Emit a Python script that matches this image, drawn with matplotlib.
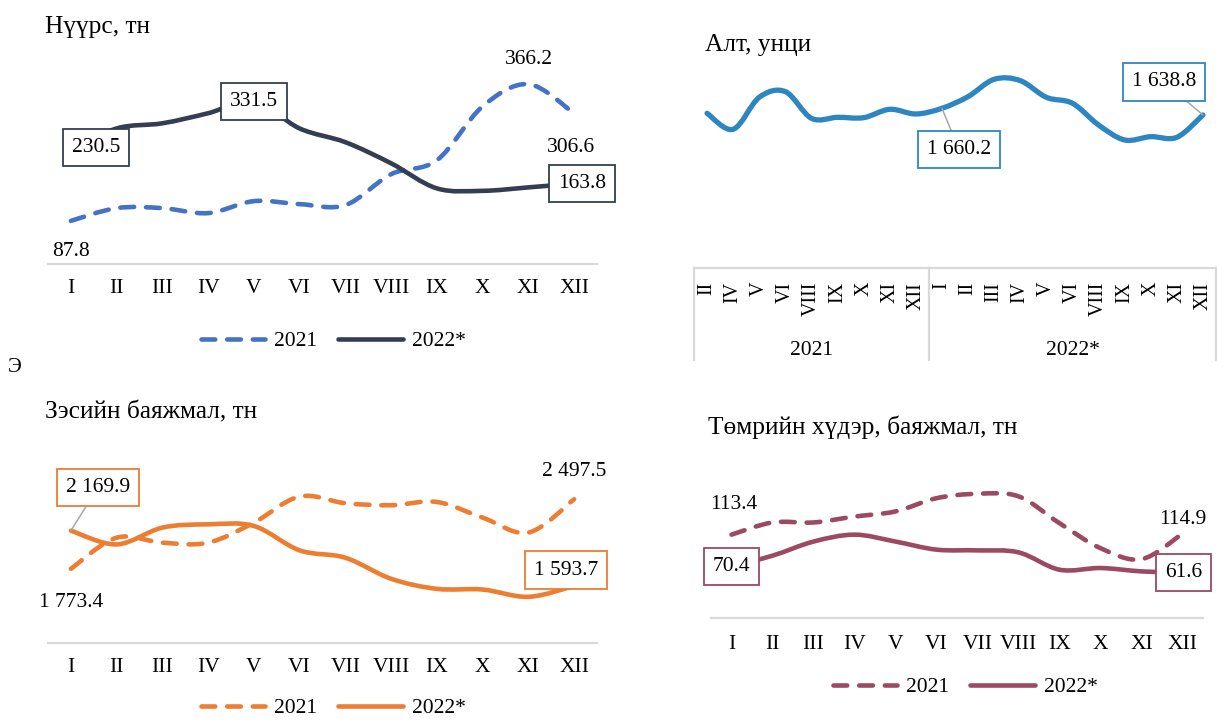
import matplotlib
matplotlib.use("Agg")
import matplotlib.pyplot as plt
from matplotlib.path import Path
from matplotlib.patches import PathPatch
from matplotlib.lines import Line2D

plt.rcParams["font.family"] = ["Liberation Serif", "DejaVu Serif"]

W, H = 1217, 720

months = ["I", "II", "III", "IV", "V", "VI", "VII", "VIII", "IX", "X", "XI", "XII"]

coal_2021 = [87.8, 113.8, 113.8, 103.6, 128.0, 121.9, 119.9, 182.9, 211.3, 321.0, 366.2, 306.6]
coal_2022 = [230.5, 276.0, 286.5, 307.0, 331.5, 276.0, 248.0, 205.0, 154.0, 149.0, 156.0, 163.8]

gold_ticks_2021 = ["II", "IV", "V", "VI", "VIII", "IX", "X", "XI", "XII"]
gold_ticks_2022 = ["I", "II", "III", "IV", "V", "VI", "VIII", "IX", "X", "XI", "XII"]
gold = [1644.2, 1592.8, 1695.5, 1713.7, 1628.1, 1631.3, 1630.2, 1657.0, 1642.0,
        1660.2, 1697.7, 1753.3, 1749.0, 1695.5, 1676.3, 1606.7, 1558.5, 1569.2, 1567.1, 1638.8]

copper_2021 = [1773.4, 2097, 2045, 2045, 2254, 2526, 2456, 2435, 2469, 2306, 2150, 2497.5]
copper_2022 = [2169.9, 2027, 2202, 2236, 2219, 1965, 1888, 1669, 1564, 1557, 1481, 1593.7]

iron_2021 = [113.4, 130.0, 130.0, 138.0, 145.0, 163.0, 169.0, 165.5, 129.0, 95.0, 80.0, 114.9]
iron_2022 = [70.4, 84.8, 104.0, 113.4, 104.0, 93.0, 92.0, 89.3, 65.7, 68.0, 63.4, 61.6]

C_COAL21, C_COAL22 = "#4472C4", "#333F50"
C_GOLD = "#2E86C1"
C_CU = "#ED7D31"
C_FE = "#9B4A62"
GRID = "#D9D9D9"
DASH = (0, (3, 2.6))
TITLE_FS = 18.3
TICK_FS = 15.5
LAB_FS = 15.5


def smooth(xs, ys):
    # excel-like smoothed line as cubic bezier segments
    n = len(xs)
    verts = [(xs[0], ys[0])]
    codes = [Path.MOVETO]
    for i in range(n - 1):
        a = max(i - 1, 0)
        d = min(i + 2, n - 1)
        c1 = (xs[i] + (xs[i + 1] - xs[a]) / 6, ys[i] + (ys[i + 1] - ys[a]) / 6)
        c2 = (xs[i + 1] - (xs[d] - xs[i]) / 6, ys[i + 1] - (ys[d] - ys[i]) / 6)
        verts += [c1, c2, (xs[i + 1], ys[i + 1])]
        codes += [Path.CURVE4] * 3
    return Path(verts, codes)


def draw(ax, ys, color, ls="-", lw=3.3):
    xs = list(range(len(ys)))
    p = PathPatch(smooth(xs, ys), fill=False, ec=color, lw=lw, ls=ls,
                  capstyle="round", joinstyle="round", zorder=3)
    ax.add_patch(p)


def box_ax(l, r, b, t):
    return fig.add_axes([l / W, 1 - b / H, (r - l) / W, (b - t) / H])


def style(ax, n, pad):
    ax.set_xlim(-0.5, n - 0.5)
    for s in ["top", "right", "left"]:
        ax.spines[s].set_visible(False)
    ax.spines["bottom"].set_color(GRID)
    ax.spines["bottom"].set_linewidth(1.6)
    ax.set_yticks([])
    ax.tick_params(axis="x", length=0, pad=pad, labelsize=TICK_FS)


def plain(ax, x, y, txt, dx, dy):
    ax.annotate(txt, (x, y), xytext=(dx / 1.389, dy / 1.389), textcoords="offset points",
                ha="center", va="center", fontsize=LAB_FS, zorder=5)


def boxed(ax, x, y, txt, dx, dy, ec, leader=False):
    kw = {}
    if leader:
        kw["arrowprops"] = dict(arrowstyle="-", color="#A6A6A6", lw=1.1, shrinkA=0, shrinkB=0)
    ax.annotate(txt, (x, y), xytext=(dx / 1.389, dy / 1.389), textcoords="offset points",
                ha="center", va="center", fontsize=LAB_FS, zorder=5,
                bbox=dict(boxstyle="square,pad=0.42", fc="white", ec=ec, lw=1.3), **kw)


def legend(ax, c1, c2, xc, yc):
    h = [Line2D([], [], color=c1, lw=3.3, ls=DASH, dash_capstyle="round"),
         Line2D([], [], color=c2, lw=3.3, solid_capstyle="round")]
    ax.legend(h, ["2021", "2022*"], loc="center", bbox_to_anchor=(xc / W, 1 - yc / H),
              bbox_transform=fig.transFigure, frameon=False, fontsize=LAB_FS, ncol=2,
              handlelength=3.0, handletextpad=0.4, columnspacing=1.0)


fig = plt.figure(figsize=(W / 100, H / 100), dpi=100)

# --- coal
ax1 = box_ax(48, 597, 264, 43)
style(ax1, 12, 11)
ax1.set_ylim(0, 450)
ax1.set_xticks(range(12), months)
draw(ax1, coal_2021, C_COAL21, DASH)
draw(ax1, coal_2022, C_COAL22)
plain(ax1, 0, coal_2021[0], "87.8", 0, -31)
plain(ax1, 10, coal_2021[10], "366.2", 0, 25)
plain(ax1, 11, coal_2021[11], "306.6", -3, -34)
boxed(ax1, 0, coal_2022[0], "230.5", 25, 3, C_COAL22)
boxed(ax1, 4, coal_2022[4], "331.5", 0, 0, C_COAL22)
boxed(ax1, 11, coal_2022[11], "163.8", 8, 0, C_COAL22)
legend(ax1, C_COAL21, C_COAL22, 333, 341)
fig.text(45 / W, 1 - 27 / H, "Нүүрс, тн", fontsize=TITLE_FS, va="center")

# --- gold
ax2 = box_ax(694, 1216, 268, 55)
style(ax2, len(gold), 10)
ax2.set_ylim(1147.6, 1831.3)
ax2.set_xticks(range(len(gold)), gold_ticks_2021 + gold_ticks_2022)
for lab in ax2.get_xticklabels():
    lab.set_rotation(90)
    lab.set_va("top")
    lab.set_fontsize(14.5)
draw(ax2, gold, C_GOLD, lw=3.8)
boxed(ax2, 9, gold[9], "1 660.2", 17, -41, C_GOLD, leader=True)
boxed(ax2, 19, gold[19], "1 638.8", -39, 33, C_GOLD, leader=True)
n21 = len(gold_ticks_2021)
tr = ax2.get_xaxis_transform()
for xv in [-0.5, n21 - 0.5, len(gold) - 0.5]:
    ax2.add_line(Line2D([xv, xv], [0, -0.43], transform=tr, color=GRID, lw=1.6, clip_on=False))
ax2.text((n21 - 1) / 2, -0.385, "2021", transform=tr, ha="center", va="center", fontsize=LAB_FS)
ax2.text(n21 + (len(gold) - n21 - 1) / 2, -0.385, "2022*", transform=tr,
         ha="center", va="center", fontsize=LAB_FS)
fig.text(705 / W, 1 - 45 / H, "Алт, унци", fontsize=TITLE_FS, va="center")

fig.text(8 / W, 1 - 368 / H, "Э", fontsize=15, va="center")

# --- copper
ax3 = box_ax(48, 597, 643, 451)
style(ax3, 12, 11)
ax3.set_ylim(1000, 3000)
ax3.set_xticks(range(12), months)
draw(ax3, copper_2021, C_CU, DASH)
draw(ax3, copper_2022, C_CU)
plain(ax3, 0, copper_2021[0], "1 773.4", 0, -34)
plain(ax3, 11, copper_2021[11], "2 497.5", 0, 28)
boxed(ax3, 0, copper_2022[0], "2 169.9", 27, 43, C_CU, leader=True)
boxed(ax3, 11, copper_2022[11], "1 593.7", -8, 16, C_CU, leader=True)
legend(ax3, C_CU, C_CU, 333, 708)
fig.text(45 / W, 1 - 412 / H, "Зэсийн баяжмал, тн", fontsize=TITLE_FS, va="center")

# --- iron ore
ax4 = box_ax(711, 1203, 618, 471)
style(ax4, 12, 12)
ax4.set_ylim(0, 200)
ax4.set_xticks(range(12), months)
draw(ax4, iron_2021, C_FE, DASH)
draw(ax4, iron_2022, C_FE)
plain(ax4, 0, iron_2021[0], "113.4", 2, 30)
plain(ax4, 11, iron_2021[11], "114.9", 0, 14)
boxed(ax4, 0, iron_2022[0], "70.4", 0, 0, C_FE)
boxed(ax4, 11, iron_2022[11], "61.6", 1, 0, C_FE)
legend(ax4, C_FE, C_FE, 965, 687)
fig.text(708 / W, 1 - 427 / H, "Төмрийн хүдэр, баяжмал, тн", fontsize=TITLE_FS, va="center")

fig.savefig("out.png", dpi=100)
